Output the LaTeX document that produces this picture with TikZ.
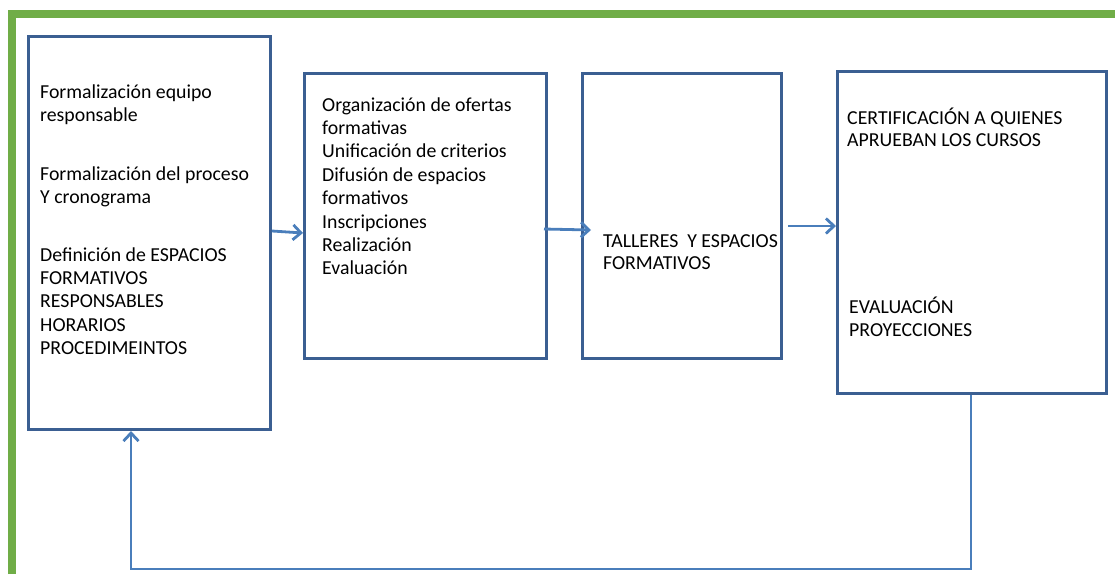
\documentclass[tikz,border=0pt]{standalone}
\usepackage{fontspec}
\setmainfont{Carlito}
\usetikzlibrary{arrows.meta}
\definecolor{frameGreen}{HTML}{70AD47}
\definecolor{boxBlue}{HTML}{3B5F92}
\definecolor{arrBlue}{HTML}{4A7EBB}
\tikzset{
  box/.style={draw=boxBlue, line width=3pt, rectangle, inner sep=0pt, anchor=north west},
  txt/.style={anchor=base west, inner sep=0pt, font=\fontsize{19.8}{23.4}\selectfont},
  arr/.style={draw=arrBlue, line width=2.8pt, -{Straight Barb[length=8pt,width=15pt,line width=2.8pt]}},
  fline/.style={draw=frameGreen, line width=8pt}
}
\begin{document}
\begin{tikzpicture}[x=1pt,y=-1pt]
\useasboundingbox (0,0) rectangle (1115,574);
% green frame
\coordinate (fA) at (11.5,574);
\coordinate (fB) at (11.5,14);
\coordinate (fC) at (1115,14);
\draw[fline] (fA) -- (fB) -- (fC);
% boxes
\node[box, minimum width=242pt, minimum height=393pt] (b1) at (27,35) {};
\node[box, minimum width=242pt, minimum height=285pt] (b2) at (303,72) {};
\node[box, minimum width=199pt, minimum height=285pt] (b3) at (581,72) {};
\node[box, minimum width=269pt, minimum height=322pt] (b4) at (836,70) {};
% texts
\foreach \t [count=\i] in {Formalización equipo,responsable}
  \node[txt] (t1a-\i) at (40,{98+23.4*(\i-1)}) {\t};
\foreach \t [count=\i] in {Formalización del proceso,Y cronograma}
  \node[txt] (t1b-\i) at (40,{180+23.4*(\i-1)}) {\t};
\foreach \t [count=\i] in {Definición de ESPACIOS,FORMATIVOS,RESPONSABLES,HORARIOS,PROCEDIMEINTOS}
  \node[txt] (t1c-\i) at (40,{261+23.4*(\i-1)}) {\t};
\foreach \t [count=\i] in {Organización de ofertas,formativas,Unificación de criterios,Difusión de espacios,formativos,Inscripciones,Realización,Evaluación}
  \node[txt] (t2-\i) at (322,{111+23.4*(\i-1)}) {\t};
\foreach \t [count=\i] in {TALLERES\ \ Y ESPACIOS,FORMATIVOS}
  \node[txt] (t3-\i) at (603,{247+22.5*(\i-1)}) {\t};
\foreach \t [count=\i] in {CERTIFICACIÓN A QUIENES,APRUEBAN LOS CURSOS}
  \node[txt] (t4a-\i) at (847,{124+22.5*(\i-1)}) {\t};
\foreach \t [count=\i] in {EVALUACIÓN,PROYECCIONES}
  \node[txt] (t4b-\i) at (849,{313+23*(\i-1)}) {\t};
% connectors
\draw[arr] (b1.east |- 0,231) -- (b2.west |- 0,233);
\draw[arr] ([xshift=-4pt]b2.east |- 0,229) -- ([xshift=10pt]b3.west |- 0,230);
\draw[arr] ([xshift=5pt]b3.east |- 0,226) -- (b4.west |- 0,226);
\coordinate (c1) at (971,569);
\coordinate (c2) at (131,569);
\draw[arr] (b4.south -| c1) -- (c1) -- (c2) -- (b1.south -| c2);
\end{tikzpicture}
\end{document}
